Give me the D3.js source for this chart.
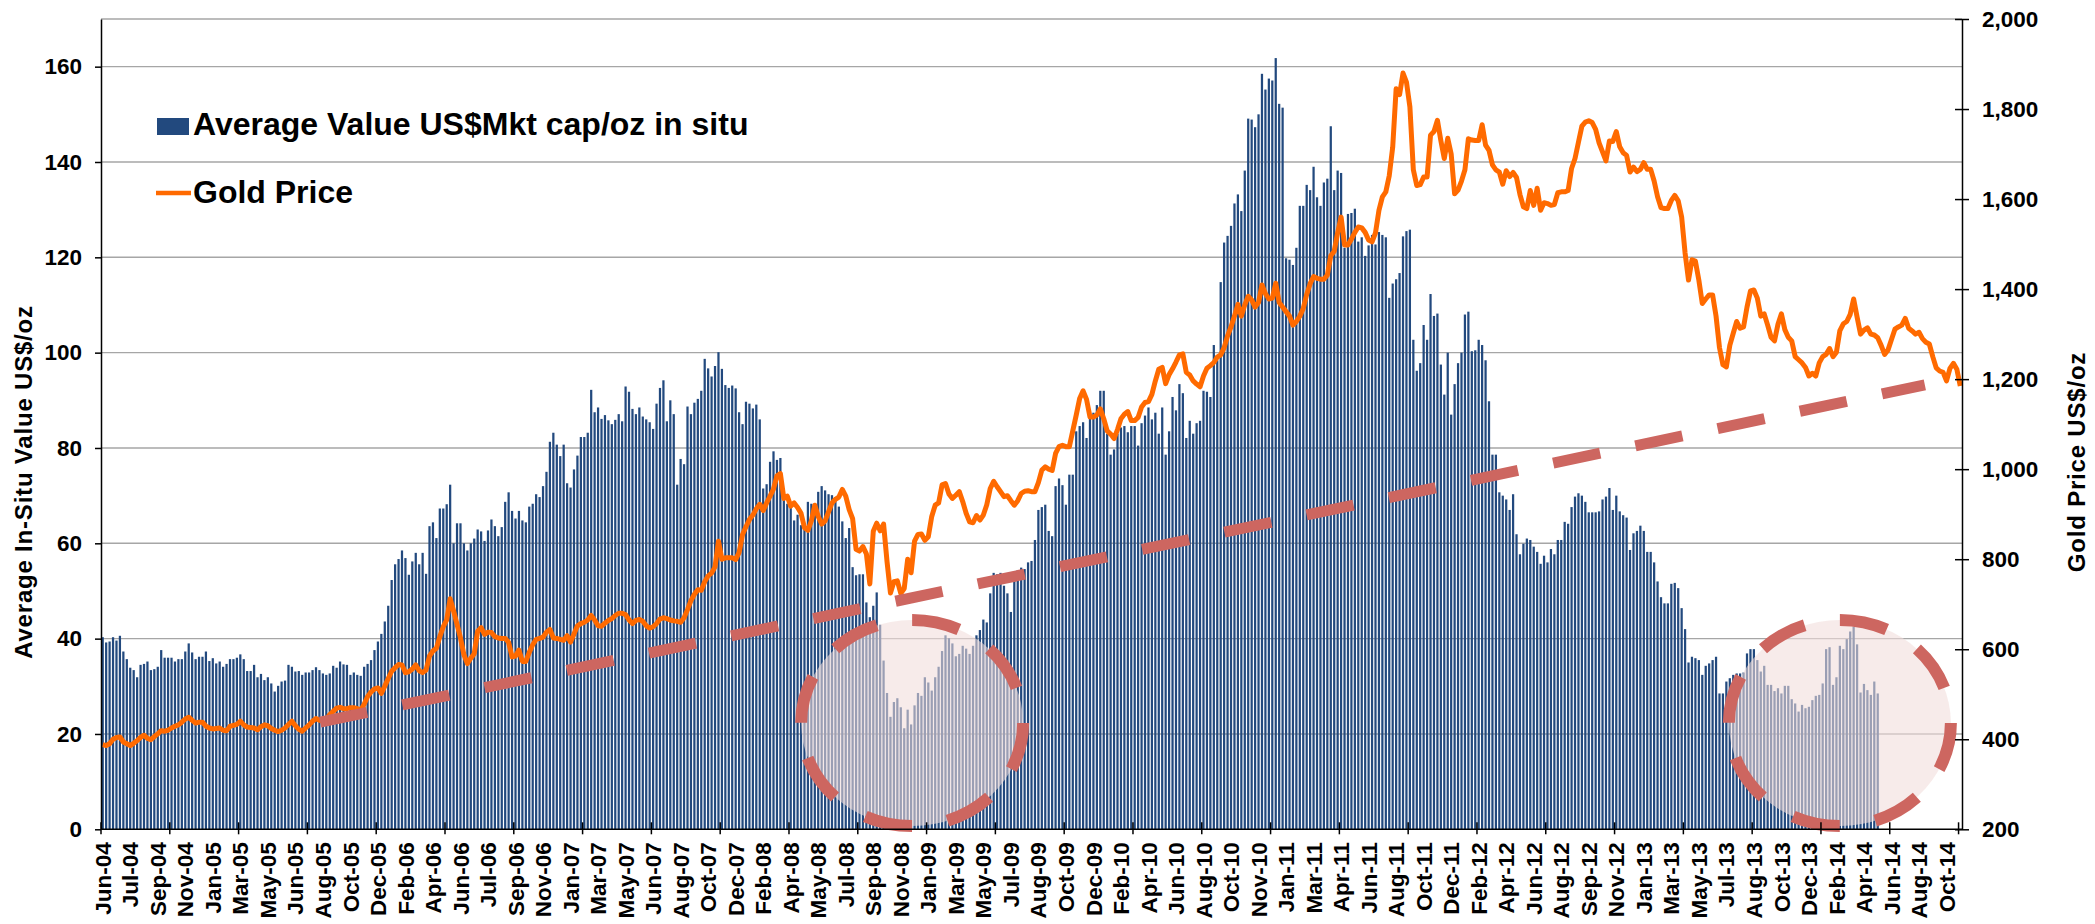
<!DOCTYPE html>
<html>
<head>
<meta charset="utf-8">
<script src="https://cdn.jsdelivr.net/npm/d3@7"></script>
<style>
  html, body { margin: 0; padding: 0; background: #ffffff; }
  svg { display: block; font-family: "Liberation Sans", Arial, sans-serif; font-weight: bold; }
</style>
</head>
<body>
<svg id="chart" width="2095" height="924"></svg>
<script>
// weekly series, first week = Jun-04
// average in-situ value, US$/oz (left axis) - stops in Apr-14
var avgValue = [
  40.3, 39.2, 39.4, 40.3, 39.6, 40.6, 37.3, 35.7, 33.9, 33.4,
  31.9, 34.5, 34.7, 35.2, 33.4, 33.6, 34.1, 37.6, 36.0, 36.0,
  36.0, 35.2, 35.7, 35.7, 37.3, 39.0, 37.1, 35.7, 36.2, 36.2,
  37.3, 35.3, 35.9, 34.8, 35.2, 34.1, 34.7, 35.7, 35.7, 36.0,
  36.7, 35.7, 33.2, 33.2, 34.5, 31.9, 32.6, 31.3, 31.9, 30.6,
  28.9, 30.1, 31.0, 31.2, 34.5, 34.1, 33.1, 33.2, 32.4, 32.9,
  32.9, 33.4, 34.0, 33.4, 32.7, 32.4, 32.7, 34.3, 33.9, 35.2,
  34.6, 34.5, 32.4, 32.9, 32.4, 32.2, 34.1, 34.7, 35.5, 37.6,
  39.4, 41.0, 43.6, 46.9,
  52.3, 55.6, 56.7, 58.5, 56.9, 53.4, 56.2, 58.0, 55.6, 58.0,
  53.6, 63.6, 64.4, 61.1, 67.3, 67.3, 68.2, 72.3, 60.0, 64.2,
  64.2, 60.0, 58.5, 60.0,
  61.0, 62.9, 62.5, 60.5, 62.7, 65.0, 63.6, 61.5, 63.4, 68.7,
  70.7, 66.8, 65.2, 66.8, 64.8, 64.4, 67.7, 68.3, 70.3, 69.7,
  72.0, 75.0, 81.3, 83.2, 80.7, 78.3, 80.7, 72.6, 71.7, 75.5,
  78.4, 82.3, 82.3, 83.2, 92.2, 87.5, 88.5, 86.1, 86.9, 85.8,
  85.0, 85.9, 87.1, 85.6, 92.9, 91.8, 88.2, 87.1, 88.5, 86.6,
  86.0, 85.4, 84.0, 89.3, 92.6, 94.2, 85.6, 90.0, 87.1, 72.3,
  77.7, 76.6, 88.7, 87.1, 89.5, 90.3, 92.0, 98.7, 96.7, 95.0,
  97.2, 100.1, 96.6, 93.2, 92.6, 93.1, 92.5, 87.5, 85.0, 89.7,
  89.3, 88.3, 89.1, 86.0, 71.5, 72.4, 77.1, 79.3, 77.5, 77.9,
  70.3, 68.3, 67.6, 64.8, 66.0, 63.8, 63.6, 68.7, 68.3, 67.6,
  70.8, 72.0, 71.1, 70.3, 70.1, 69.7, 67.7, 64.6, 61.1, 63.2,
  55.0, 53.3, 53.5, 53.5, 47.6, 44.5, 46.9, 49.7, 42.9, 35.4,
  28.6, 23.6, 26.7, 27.5, 25.6, 21.2, 25.1, 22.0, 26.0, 28.6,
  28.0, 31.9, 30.8, 29.1, 31.9, 34.1, 37.4, 40.7, 40.1, 39.0,
  36.3, 36.8, 38.5, 37.9, 36.8, 38.5, 40.7, 41.8, 44.0, 43.4,
  49.5, 53.8, 53.5, 53.8, 51.1, 49.5, 45.6, 52.2, 54.4, 54.9,
  54.6, 56.0, 56.3, 60.7, 67.0, 67.6, 68.1, 62.6, 61.5, 72.0,
  73.6, 72.2, 68.1, 74.4, 74.4, 83.5, 84.6, 85.4, 82.1, 86.8,
  87.4, 89.0, 92.0, 92.0, 83.0, 78.6, 79.7, 83.0, 84.3, 84.6,
  83.3, 84.6, 84.6, 80.5, 85.2, 86.8, 88.5, 86.0, 87.4, 83.0,
  88.5, 78.6, 83.5, 90.7, 87.9, 93.4, 91.5, 82.1, 85.7, 83.0,
  85.2, 85.7, 92.0, 91.8, 90.7, 101.6, 98.4, 114.8, 123.1,
  124.5, 126.6, 131.3, 133.2, 129.7, 138.2, 149.1, 148.9, 147.3, 150.0,
  158.5, 155.2, 157.5, 157.1, 161.8, 152.2, 151.4, 119.8, 119.5, 118.4,
  122.0, 130.8, 130.8, 135.2, 134.1, 139.0, 132.6, 130.8, 135.7, 136.5,
  147.5, 134.1, 138.2, 137.7,
  122.0, 129.1, 129.3, 130.2, 123.3, 124.2, 120.3, 122.5, 124.7, 122.7,
  125.3, 124.7, 124.2, 111.5, 114.5, 115.4, 116.7, 124.4, 125.5, 125.8,
  102.7, 96.2, 97.8, 105.8, 102.7, 112.3, 107.7, 108.2, 97.5, 91.2,
  100.0, 87.0, 93.4, 97.8, 100.0, 108.0, 108.6, 100.3, 100.5, 102.7,
  101.6, 98.4, 89.8, 78.6, 78.6, 70.7, 70.0, 69.2, 67.0, 70.3,
  61.9, 57.7, 59.9, 61.0, 60.7, 59.3, 58.2, 55.7, 57.4, 56.0,
  58.8, 57.7, 60.7, 60.7, 64.5, 64.1, 67.6, 69.8, 70.5, 70.0,
  68.7, 66.5, 66.5,
  66.5, 66.7, 69.2, 69.8, 71.6, 67.0, 70.0, 66.7, 65.9, 65.4,
  58.6, 62.1, 62.6, 63.7, 62.6, 58.2, 58.2,
  56.0, 52.0, 48.7, 47.4, 47.4, 51.5, 51.7, 50.6, 46.4, 42.0,
  35.0, 36.2, 35.9, 35.5, 32.4, 34.3, 34.8, 35.5, 36.2, 28.5,
  28.5, 31.0, 31.7, 32.4, 32.7, 32.7, 32.9, 36.9, 37.8, 37.8,
  35.5, 33.1, 34.3, 30.3, 30.3, 29.0, 29.6, 28.5, 30.1, 30.1,
  27.3, 26.4, 24.7, 26.1, 25.4, 25.7, 27.1, 28.0, 28.2, 30.6,
  37.8, 38.2, 30.3, 31.9, 38.5, 37.8, 39.9, 41.5, 42.5, 38.8,
  28.7, 30.5, 29.2, 28.2, 31.0, 28.5
];

// gold price US$/oz (right axis), same weeks, runs to Nov-14
var goldPrice = [
  388, 386, 390, 400, 404, 405, 394, 390, 386, 391,
  397, 404, 409, 402, 399, 406, 412, 419, 418, 420,
  425, 429, 432, 438, 445, 449, 442, 436, 438, 438,
  429, 425, 423, 424, 425, 420, 419, 429, 431, 433,
  440, 432, 427, 426, 425, 421, 428, 432, 430, 424,
  420, 417, 420, 425, 433, 440, 430, 422, 418, 425,
  432, 440, 446, 442, 441, 444, 455, 462, 469, 471,
  468, 468, 470, 470, 468, 465, 478, 495, 505, 512,
  514, 502, 518, 535, 551, 559, 566, 565, 548, 550,
  556, 565, 552, 548, 554, 585, 596, 602, 628, 650,
  665, 712, 685, 655, 625, 588, 568, 580,
  590, 640, 648, 633, 638, 637, 628, 625, 624, 624,
  615, 583, 585, 598, 573, 573, 593, 610, 622, 624,
  627, 638, 644, 625, 624, 622, 620, 630, 616, 634,
  652, 657, 660, 665, 675, 665, 652, 651, 658, 664,
  668, 675, 680, 680, 677, 665, 657, 664, 666, 662,
  652, 647, 650, 657, 667, 670, 668, 665, 663, 662,
  660, 670, 688, 708, 722, 732, 731, 750, 763, 769,
  783, 840, 800, 803, 803, 803, 799, 815, 855, 872,
  888, 898, 912, 922, 908, 925, 940, 956, 985, 990,
  935, 940, 918, 925, 915, 902, 870, 864, 885, 920,
  895, 878, 885, 905, 925, 933, 938, 955, 940, 910,
  890, 822, 818, 828, 812, 745, 862, 880, 863, 878,
  795, 725, 750, 752, 724, 735, 800, 770, 840, 855,
  856, 842, 850, 895, 920, 925, 965, 968, 945, 935,
  942, 950, 928, 902, 883, 881, 897, 887, 898, 921,
  957, 973, 961, 950, 939, 941, 930, 920, 930, 946,
  951, 952, 950, 950, 970, 998, 1005, 1000, 997, 1035,
  1050, 1053, 1050, 1050, 1085, 1120, 1157, 1174, 1155, 1116,
  1116, 1120, 1134, 1112, 1085, 1078, 1068, 1088, 1112, 1122,
  1128, 1108, 1108, 1115, 1138, 1148, 1150, 1166, 1196, 1222,
  1226, 1190, 1210, 1223, 1238, 1254, 1256, 1215, 1209, 1196,
  1189, 1183, 1207, 1224, 1230, 1237, 1249, 1254, 1270,
  1296, 1316, 1340, 1366, 1340, 1365, 1384, 1376, 1360, 1370,
  1409, 1390, 1378, 1380, 1413, 1370, 1360, 1350, 1340, 1320,
  1328, 1340, 1357, 1388, 1412, 1428, 1424, 1422, 1422, 1431,
  1474, 1484, 1525, 1560, 1498, 1498, 1511, 1526, 1538, 1536,
  1526, 1509, 1505, 1525, 1575, 1605, 1616, 1652, 1715, 1845,
  1832, 1880, 1860, 1805, 1665, 1630, 1632, 1649, 1649, 1742,
  1750, 1775, 1730, 1690, 1735, 1700, 1612, 1620, 1640, 1665,
  1734, 1731, 1730, 1730, 1765, 1720, 1708, 1676, 1665, 1660,
  1633, 1663, 1650, 1659, 1648, 1610, 1583, 1579, 1619, 1586,
  1624, 1575, 1592, 1590, 1586, 1588, 1614, 1616, 1616, 1619,
  1668, 1690, 1726, 1762, 1771, 1774, 1770,
  1755, 1725, 1705, 1685, 1729, 1728, 1750, 1716, 1703, 1697,
  1660, 1671, 1661, 1666, 1681, 1666, 1666, 1640, 1605, 1581,
  1579, 1579, 1597, 1608, 1596, 1560, 1480, 1420, 1465, 1462,
  1420, 1368, 1378, 1387, 1387, 1340, 1270, 1232, 1227, 1275,
  1302, 1328, 1313, 1316, 1360, 1396, 1398, 1380, 1340, 1345,
  1320, 1293, 1285, 1322, 1345, 1310, 1293, 1285, 1250, 1243,
  1236, 1226, 1207, 1213, 1207, 1236, 1250, 1255, 1268, 1250,
  1260, 1308, 1323, 1328, 1344, 1378, 1338, 1300, 1309, 1314,
  1300, 1298, 1292, 1275, 1255, 1265, 1288, 1311, 1316, 1320,
  1335, 1313, 1307, 1300, 1304, 1290, 1282, 1278, 1250, 1225,
  1218, 1215, 1196, 1224, 1235, 1222, 1185
];

// one label every 8th week
var xLabels = [
  "Jun-04", "Jul-04", "Sep-04", "Nov-04", "Jan-05", "Mar-05", "May-05", "Jun-05",
  "Aug-05", "Oct-05", "Dec-05", "Feb-06", "Apr-06", "Jun-06", "Jul-06", "Sep-06",
  "Nov-06", "Jan-07", "Mar-07", "May-07", "Jun-07", "Aug-07", "Oct-07", "Dec-07",
  "Feb-08", "Apr-08", "May-08", "Jul-08", "Sep-08", "Nov-08", "Jan-09", "Mar-09",
  "May-09", "Jul-09", "Aug-09", "Oct-09", "Dec-09", "Feb-10", "Apr-10", "Jun-10",
  "Aug-10", "Oct-10", "Nov-10", "Jan-11", "Mar-11", "Apr-11", "Jun-11", "Aug-11",
  "Oct-11", "Dec-11", "Feb-12", "Apr-12", "Jun-12", "Aug-12", "Sep-12", "Nov-12",
  "Jan-13", "Mar-13", "May-13", "Jul-13", "Aug-13", "Oct-13", "Dec-13", "Feb-14",
  "Apr-14", "Jun-14", "Aug-14", "Oct-14"
];
var labelEvery = 8;
var majorTickEvery = 20;

var leftTicks = [0, 20, 40, 60, 80, 100, 120, 140, 160];
var rightTicks = [200, 400, 600, 800, 1000, 1200, 1400, 1600, 1800, 2000];

// hand drawn annotations, in week index / axis units
var trendLine = [{week: 63.7, price: 438}, {week: 530.2, price: 1187}];
var highlights = [{week: 235.8, value: 22.3}, {week: 505.5, value: 22.3}];

var barColor = "#22497e";
var goldColor = "#ff6a00";
var markColor = "#cd6660";

var svg = d3.select("#chart");
var plot = {left: 101, right: 1962, top: 19, bottom: 829.3};

var x = d3.scaleBand()
    .domain(d3.range(goldPrice.length))
    .range([plot.left, plot.right])
    .paddingInner(0.35)
    .paddingOuter(0.175);
var xWeek = d3.scaleLinear()
    .domain([0, goldPrice.length])
    .range([plot.left, plot.right]);
var yLeft = d3.scaleLinear().domain([0, 170]).range([plot.bottom, plot.top]);
var yRight = d3.scaleLinear().domain([200, 2000]).range([plot.bottom, plot.top]);

// gridlines + top border of plot area
svg.append("g").selectAll("line")
    .data(leftTicks.slice(1).concat([170]))
    .enter().append("line")
    .attr("x1", plot.left).attr("x2", plot.right)
    .attr("y1", function(d) { return yLeft(d); })
    .attr("y2", function(d) { return yLeft(d); })
    .attr("stroke", "#a6a6a6")
    .attr("stroke-width", 1.4);

// bars
svg.append("g").selectAll("rect")
    .data(avgValue)
    .enter().append("rect")
    .attr("x", function(d, i) { return x(i); })
    .attr("y", function(d) { return yLeft(d); })
    .attr("width", x.bandwidth())
    .attr("height", function(d) { return plot.bottom - yLeft(d); })
    .attr("fill", barColor);

// gold price line
var goldLine = d3.line()
    .x(function(d, i) { return x(i) + x.bandwidth() / 2; })
    .y(function(d) { return yRight(d); });
svg.append("path")
    .datum(goldPrice)
    .attr("d", goldLine)
    .attr("fill", "none")
    .attr("stroke", goldColor)
    .attr("stroke-width", 5)
    .attr("stroke-linejoin", "round");

// dashed trend line
svg.append("line")
    .attr("x1", xWeek(trendLine[0].week)).attr("y1", yRight(trendLine[0].price))
    .attr("x2", xWeek(trendLine[1].week)).attr("y2", yRight(trendLine[1].price))
    .attr("stroke", markColor)
    .attr("stroke-width", 11)
    .attr("stroke-dasharray", "48 36");

// dashed highlight circles (start at top, go clockwise)
var rx = 111, ry = 103;
svg.append("g").selectAll("path")
    .data(highlights)
    .enter().append("path")
    .attr("d", function(d) {
        var cx = xWeek(d.week), cy = yLeft(d.value);
        return "M" + cx + "," + (cy - ry) +
            "A" + rx + "," + ry + " 0 1 1 " + cx + "," + (cy + ry) +
            "A" + rx + "," + ry + " 0 1 1 " + cx + "," + (cy - ry) + "Z";
    })
    .attr("fill", "#f2dcdb")
    .attr("fill-opacity", 0.58)
    .attr("stroke", markColor)
    .attr("stroke-width", 12)
    .attr("stroke-dasharray", "48 36");

// left axis
var leftAxis = svg.append("g")
    .attr("transform", "translate(" + plot.left + ",0)")
    .call(d3.axisLeft(yLeft).tickValues(leftTicks).tickSize(6).tickSizeOuter(0).tickPadding(13));
leftAxis.selectAll("text").attr("font-size", "22.5px").attr("fill", "#000");

// right axis, ticks cross the line
var rightAxis = svg.append("g")
    .attr("transform", "translate(" + plot.right + ",0)")
    .call(d3.axisRight(yRight).tickValues(rightTicks).tickFormat(d3.format(","))
        .tickSize(7).tickSizeOuter(0).tickPadding(13));
rightAxis.selectAll(".tick line").attr("x1", -7);
rightAxis.selectAll("text").attr("font-size", "22.5px").attr("fill", "#000");

// bottom axis: labels every 8 weeks, marks every 20 weeks
var bottomAxis = svg.append("g")
    .attr("transform", "translate(0," + plot.bottom + ")")
    .call(d3.axisBottom(x)
        .tickValues(d3.range(0, xLabels.length * labelEvery, labelEvery))
        .tickFormat(function(d) { return xLabels[d / labelEvery]; })
        .tickSize(0).tickSizeOuter(0));
bottomAxis.select(".domain").remove();
bottomAxis.selectAll("text")
    .attr("font-size", "22.5px")
    .attr("fill", "#000")
    .attr("text-anchor", "end")
    .attr("transform", "rotate(-90)")
    .attr("x", -13).attr("y", 0).attr("dy", "0.36em");

svg.append("line")
    .attr("x1", plot.left).attr("x2", plot.right)
    .attr("y1", plot.bottom).attr("y2", plot.bottom)
    .attr("stroke", "#000").attr("stroke-width", 1.5);
svg.append("g").selectAll("line")
    .data(d3.range(0, goldPrice.length, majorTickEvery))
    .enter().append("line")
    .attr("x1", function(d) { return xWeek(d); })
    .attr("x2", function(d) { return xWeek(d); })
    .attr("y1", plot.bottom - 7).attr("y2", plot.bottom + 5)
    .attr("stroke", "#000").attr("stroke-width", 1.5);

svg.selectAll(".domain").attr("stroke", "#000").attr("stroke-width", 1.5);
svg.selectAll(".tick line").attr("stroke", "#000").attr("stroke-width", 1.5);

// axis titles
svg.append("text")
    .attr("transform", "translate(24,482) rotate(-90)")
    .attr("text-anchor", "middle").attr("dy", "0.35em")
    .attr("font-size", "24px").attr("letter-spacing", "0.8px")
    .text("Average In-Situ Value US$/oz");
svg.append("text")
    .attr("transform", "translate(2077,462) rotate(-90)")
    .attr("text-anchor", "middle").attr("dy", "0.35em")
    .attr("font-size", "24px").attr("letter-spacing", "0.8px")
    .text("Gold Price US$/oz");

// legend
var legend = svg.append("g");
legend.append("rect")
    .attr("x", 157).attr("y", 118).attr("width", 32).attr("height", 17)
    .attr("fill", barColor);
legend.append("text")
    .attr("x", 193).attr("y", 135).attr("font-size", "32px")
    .text("Average Value US$Mkt cap/oz in situ");
legend.append("line")
    .attr("x1", 156).attr("x2", 191).attr("y1", 193).attr("y2", 193)
    .attr("stroke", goldColor).attr("stroke-width", 4.5);
legend.append("text")
    .attr("x", 193).attr("y", 203).attr("font-size", "32px")
    .text("Gold Price");
</script>
</body>
</html>
